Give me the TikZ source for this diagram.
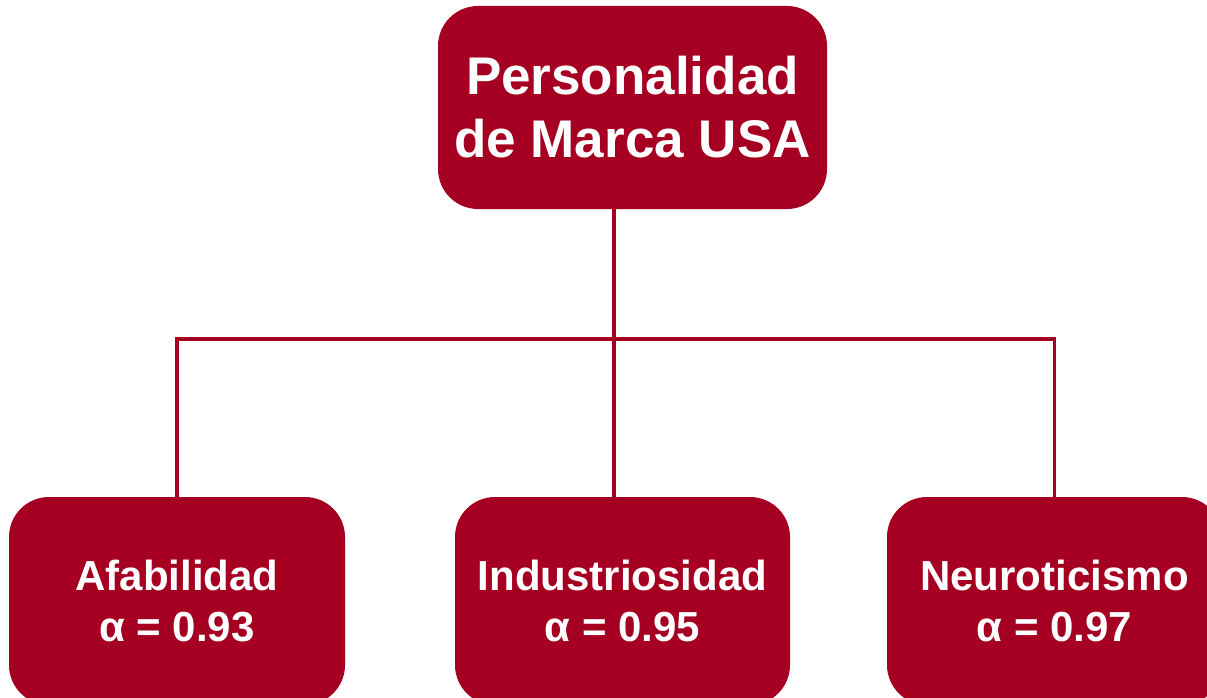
\documentclass[tikz,border=0pt]{standalone}
\usepackage{fontspec}
\setmainfont{Liberation Sans}
\usetikzlibrary{calc}
\definecolor{marca}{HTML}{A50021}
\tikzstyle{caja} = [rounded corners=40pt, fill=marca, text=white, align=center, inner sep=0pt, font=\bfseries]
\tikzstyle{link} = [draw=marca, line width=3.2pt]

\begin{document}
\begin{tikzpicture}[x=1pt, y=1pt]
        \useasboundingbox (0,0) rectangle (1207,-698);
        \node (top) [caja, minimum width=389pt, minimum height=203pt, font=\bfseries\fontsize{53}{63}\selectfont] at (632.5,-107.5) {Personalidad\\de Marca USA};
        \node (afab) [caja, minimum width=336pt, minimum height=208pt, font=\bfseries\fontsize{42}{51}\selectfont] at (177,-601) {Afabilidad\\α = 0.93};
        \node (indus) [caja, minimum width=335pt, minimum height=208pt, font=\bfseries\fontsize{42}{51}\selectfont] at (622.5,-601) {Industriosidad\\α = 0.95};
        \node (neuro) [caja, minimum width=335pt, minimum height=208pt, font=\bfseries\fontsize{42}{51}\selectfont] at (1054.5,-601) {Neuroticismo\\α = 0.97};
        \coordinate (hub) at (614,-339);
        \draw [link] (top.south -| hub) -- (indus.north -| hub);
        \draw [link] (afab.north) |- (hub) -| (neuro.north);
    \end{tikzpicture}
\end{document}
